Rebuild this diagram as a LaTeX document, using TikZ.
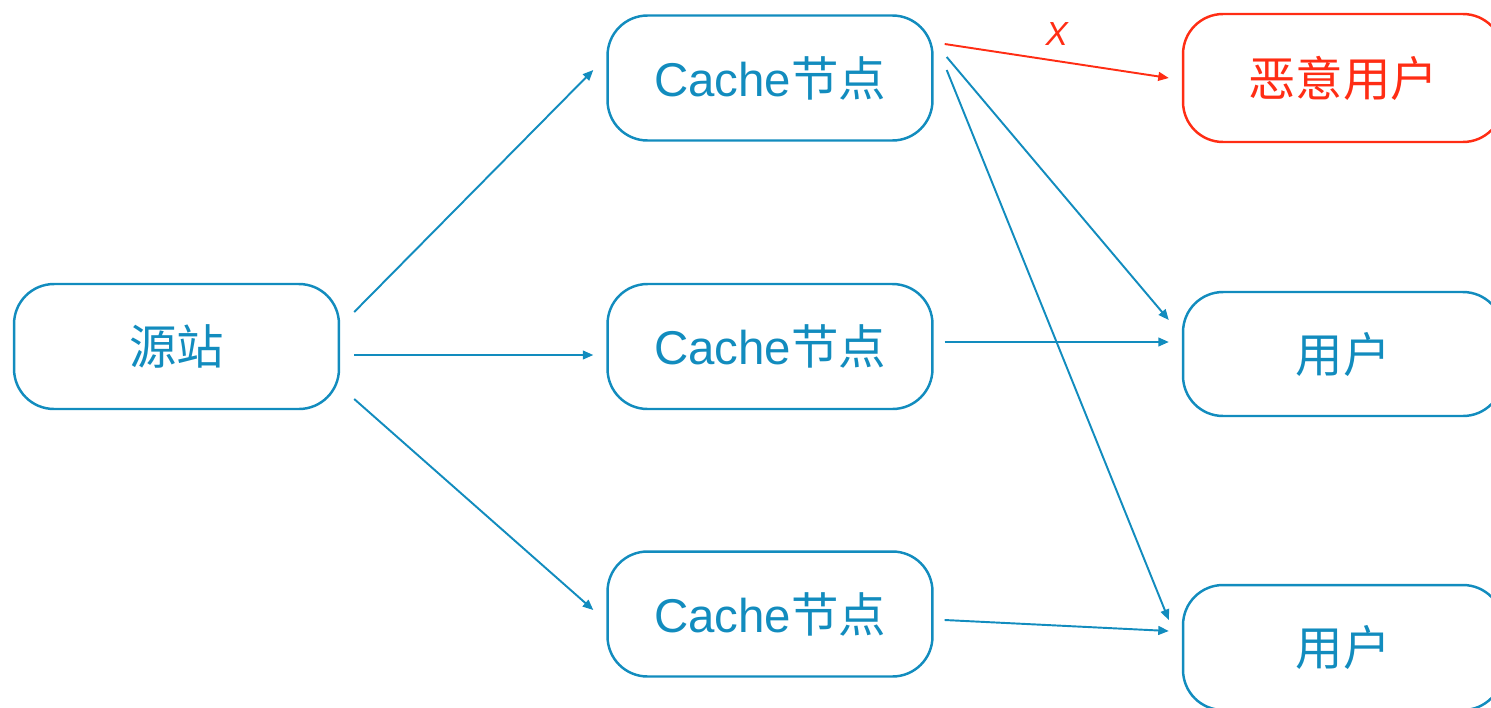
\documentclass[tikz,border=0pt]{standalone}
\usepackage{fontspec}
\setmainfont{Liberation Sans}
\newfontfamily\cjk{Noto Sans CJK SC}
\usetikzlibrary{arrows.meta,calc}
\definecolor{cdnblue}{RGB}{18,140,190}
\definecolor{badred}{RGB}{255,45,20}

\begin{document}
\begin{tikzpicture}[x=0.02cm, y=-0.02cm, >={Triangle[length=6pt,width=5pt]}]
    \tikzstyle{box}=[rectangle, rounded corners=0.8cm, draw=cdnblue, line width=1.4pt, text=cdnblue, minimum width=6.5cm, minimum height=2.5cm, font=\fontsize{27}{30}\selectfont]
    \tikzstyle{link}=[->, draw=cdnblue, line width=1.1pt]
    \tikzstyle{cut}=[->, draw=badred, line width=1.1pt]
    \useasboundingbox (0,0) rectangle (1491,707);
    % origin and cache nodes
    \node [box] (src) at (176.5,346.5) {{\cjk 源站}};
    \node [box] (c1) at (770,78) {Cache{\cjk 节点}};
    \node [box] (c2) at (770,346.5) {Cache{\cjk 节点}};
    \node [box] (c3) at (770,614) {Cache{\cjk 节点}};
    % users
    \node [box, draw=badred, text=badred, minimum width=6.4cm, minimum height=2.56cm] (bad) at (1343,78) {{\cjk 恶意用户}};
    \node [box, minimum width=6.4cm, minimum height=2.48cm] (u1) at (1343,354) {{\cjk 用户}};
    \node [box, minimum width=6.4cm] (u2) at (1343,647.5) {{\cjk 用户}};
    \draw [link] ($(src.east)+(14,-34.5)$) -- ($(c1.west)+(-13,-8)$);
    \draw [link] ($(src.east)+(14,8.5)$) -- ($(c2.west)+(-13,8.5)$);
    \draw [link] ($(src.east)+(14,52.5)$) -- ($(c3.west)+(-13,-4)$);
    \draw [cut] ($(c1.east)+(11,-34)$) -- node [pos=.5, above=5pt, text=badred, font=\fontsize{19}{20}\selectfont\itshape] (lblx) {X} ($(bad.west)+(-13,0)$);
    \draw [link] ($(c1.east)+(13,-21)$) -- ($(u1.west)+(-13,-34)$);
    \draw [link] ($(c1.east)+(13,-8)$) -- ($(u2.west)+(-13,-27.5)$);
    \draw [link] ($(c2.east)+(11,-4.5)$) -- ($(u1.west)+(-13,-12)$);
    \draw [link] ($(c3.east)+(11,6)$) -- ($(u2.west)+(-13,-16.5)$);
\end{tikzpicture}
\end{document}
